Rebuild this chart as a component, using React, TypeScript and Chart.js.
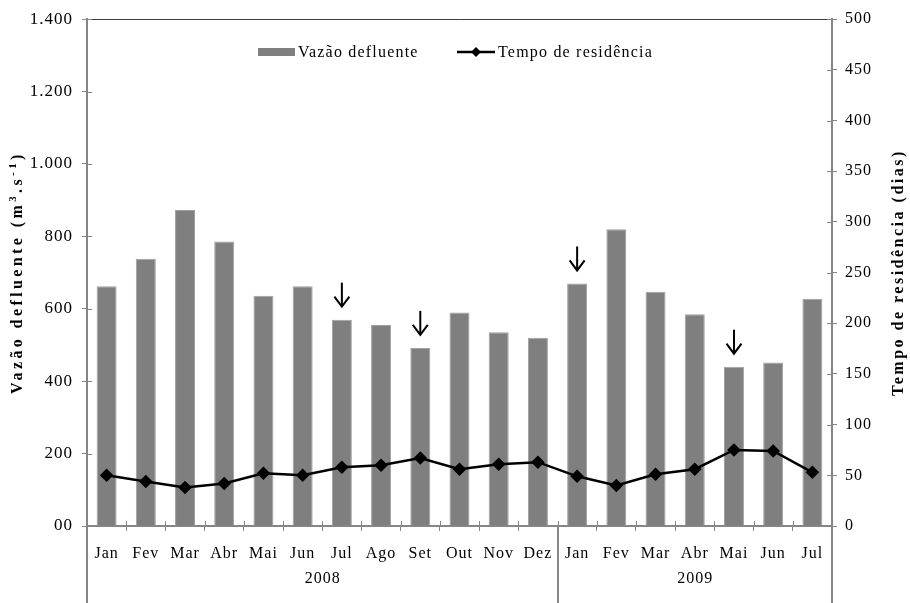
import React, { useEffect, useRef } from 'react';
import { Chart, registerables } from 'chart.js';

Chart.register(...registerables);

// ---- data ----
const months = ['Jan', 'Fev', 'Mar', 'Abr', 'Mai', 'Jun', 'Jul', 'Ago', 'Set', 'Out', 'Nov', 'Dez', 'Jan', 'Fev', 'Mar', 'Abr', 'Mai', 'Jun', 'Jul'];
const yearLabels = ['2008', '2009'];
const yearCounts = [12, 7];
const vazao = [662, 738, 873, 786, 636, 662, 570, 555, 492, 590, 535, 520, 670, 820, 647, 585, 440, 452, 628];
const tempo = [50, 44, 38, 42, 52, 50, 58, 60, 67, 56, 61, 63, 49, 40, 51, 56, 75, 74, 53];
const arrowIndices = [6, 8, 12, 16];
const leftTickLabels = ['00', '200', '400', '600', '800', '1.000', '1.200', '1.400'];
const seriesNames = ['Vazão defluente', 'Tempo de residência'];

const FONT = "'Liberation Serif', 'Times New Roman', serif";
const AXIS = '#868686';
const BAR = '#7f7f7f';

function line(ctx: CanvasRenderingContext2D, x1: number, y1: number, x2: number, y2: number) {
  ctx.beginPath();
  ctx.moveTo(x1, y1);
  ctx.lineTo(x2, y2);
  ctx.stroke();
}

type Seg = { t: string; sup?: boolean };

function drawRotatedTitle(ctx: CanvasRenderingContext2D, cx: number, cy: number, segs: Seg[], size: number, spacing: number) {
  const big = `bold ${size}px ${FONT}`;
  const small = `bold ${Math.round(size * 0.7)}px ${FONT}`;
  (ctx as any).letterSpacing = `${spacing}px`;
  let total = 0;
  const widths = segs.map((s) => {
    ctx.font = s.sup ? small : big;
    const w = ctx.measureText(s.t).width;
    total += w;
    return w;
  });
  ctx.save();
  ctx.translate(cx, cy);
  ctx.rotate(-Math.PI / 2);
  ctx.fillStyle = '#000';
  ctx.textBaseline = 'middle';
  ctx.textAlign = 'left';
  let x = -total / 2;
  segs.forEach((s, i) => {
    ctx.font = s.sup ? small : big;
    ctx.fillText(s.t, x, s.sup ? -size * 0.32 : 0);
    x += widths[i];
  });
  ctx.restore();
}

const spacingPlugin = {
  id: 'spacing',
  beforeDraw(chart: any) {
    chart.ctx.letterSpacing = '1px';
  },
};

const decorPlugin = {
  id: 'decor',
  afterDraw(chart: any) {
    const ctx: CanvasRenderingContext2D = chart.ctx;
    const xs = chart.scales.x;
    const yl = chart.scales.yL;
    const yr = chart.scales.yR;
    const area = chart.chartArea;
    const H = chart.height;
    ctx.save();

    // top border of plot area
    ctx.strokeStyle = '#3a3a3a';
    ctx.lineWidth = 1;
    line(ctx, area.left, Math.round(area.top) + 0.5, area.right, Math.round(area.top) + 0.5);

    // inner halves of crossing tick marks
    ctx.strokeStyle = AXIS;
    ctx.lineWidth = 1;
    yl.ticks.forEach((_t: any, i: number) => {
      const py = Math.round(yl.getPixelForTick(i)) + 0.5;
      line(ctx, area.left, py, area.left + 5, py);
    });
    yr.ticks.forEach((_t: any, i: number) => {
      const py = Math.round(yr.getPixelForTick(i)) + 0.5;
      line(ctx, area.right - 5, py, area.right, py);
    });
    for (let i = 1; i < months.length; i++) {
      const px = Math.round((xs.getPixelForValue(i - 1) + xs.getPixelForValue(i)) / 2) + 0.5;
      line(ctx, px, area.bottom - 5, px, area.bottom);
    }

    // year group separators and labels
    ctx.lineWidth = 2;
    line(ctx, area.left, area.top, area.left, H);
    line(ctx, area.right, area.bottom, area.right, H);
    let start = 0;
    const half = (xs.getPixelForValue(1) - xs.getPixelForValue(0)) / 2;
    (ctx as any).letterSpacing = '1px';
    yearLabels.forEach((lab, g) => {
      const end = start + yearCounts[g] - 1;
      const x0 = xs.getPixelForValue(start) - half;
      const x1 = xs.getPixelForValue(end) + half;
      if (g < yearLabels.length - 1) {
        ctx.strokeStyle = AXIS;
        line(ctx, Math.round(x1), area.bottom, Math.round(x1), H);
      }
      ctx.fillStyle = '#000';
      ctx.font = `16px ${FONT}`;
      ctx.textAlign = 'center';
      ctx.textBaseline = 'middle';
      ctx.fillText(lab, (x0 + x1) / 2 + 0.5, 579);
      start = end + 1;
    });

    // arrows above selected bars
    ctx.strokeStyle = '#000';
    ctx.lineWidth = 2;
    arrowIndices.forEach((idx) => {
      const px = xs.getPixelForValue(idx);
      const top = yl.getPixelForValue(vazao[idx]);
      const tip = top - 13;
      const tail = tip - 24;
      line(ctx, px, tail, px, tip);
      ctx.beginPath();
      ctx.moveTo(px - 7.5, tip - 10);
      ctx.lineTo(px, tip);
      ctx.lineTo(px + 7.5, tip - 10);
      ctx.stroke();
    });

    // legend
    const ly = 52;
    ctx.fillStyle = BAR;
    ctx.fillRect(258, ly - 4, 37, 8);
    ctx.fillStyle = '#000';
    ctx.font = `16px ${FONT}`;
    (ctx as any).letterSpacing = '1.2px';
    ctx.textAlign = 'left';
    ctx.textBaseline = 'middle';
    ctx.fillText(seriesNames[0], 298, ly + 1);
    ctx.strokeStyle = '#000';
    ctx.lineWidth = 2.5;
    line(ctx, 457, ly, 495, ly);
    ctx.beginPath();
    ctx.moveTo(476, ly - 5);
    ctx.lineTo(481, ly);
    ctx.lineTo(476, ly + 5);
    ctx.lineTo(471, ly);
    ctx.closePath();
    ctx.fill();
    ctx.fillText(seriesNames[1], 498, ly + 1);

    // axis titles
    const cy = (area.top + area.bottom) / 2;
    drawRotatedTitle(ctx, 18, cy, [
      { t: 'Vazão defluente (m' },
      { t: '3', sup: true },
      { t: '.s' },
      { t: '-1', sup: true },
      { t: ')' },
    ], 16, 3.4);
    drawRotatedTitle(ctx, 899, cy, [{ t: 'Tempo de residência (dias)' }], 16, 2.5);

    ctx.restore();
  },
};

export default function App() {
  const ref = useRef<HTMLCanvasElement | null>(null);
  useEffect(() => {
    if (!ref.current) return;
    const tickFont = { family: FONT, size: 16 };
    const chart = new Chart(ref.current, {
      type: 'bar',
      data: {
        labels: months,
        datasets: [
          {
            type: 'line',
            label: seriesNames[1],
            data: tempo,
            yAxisID: 'yR',
            borderColor: '#000',
            backgroundColor: '#000',
            borderWidth: 2.5,
            pointStyle: 'rectRot',
            pointRadius: 5,
            pointBackgroundColor: '#000',
            pointBorderColor: '#000',
            tension: 0,
            order: 0,
          } as any,
          {
            type: 'bar',
            label: seriesNames[0],
            data: vazao,
            yAxisID: 'yL',
            backgroundColor: BAR,
            borderColor: '#a0a0a0',
            borderWidth: { top: 1, left: 1, right: 1, bottom: 0 },
            barPercentage: 0.51,
            categoryPercentage: 1.0,
            order: 1,
          } as any,
        ],
      },
      options: {
        responsive: false,
        animation: false,
        layout: { padding: { top: 15, left: 0, right: 0, bottom: 0 } },
        plugins: { legend: { display: false }, tooltip: { enabled: false } },
        scales: {
          x: {
            type: 'category',
            grid: { offset: true, drawOnChartArea: false, tickLength: 5, color: AXIS },
            border: { color: AXIS, width: 2 },
            ticks: { font: tickFont, color: '#000', padding: 13, maxRotation: 0, autoSkip: false },
            afterFit: (s: any) => { s.height = 77; },
          },
          yL: {
            position: 'left',
            min: 0,
            max: 1400,
            grid: { drawOnChartArea: false, tickLength: 5, color: AXIS },
            border: { color: AXIS, width: 2 },
            ticks: {
              stepSize: 200,
              font: { family: FONT, size: 17 },
              color: '#000',
              padding: 9,
              callback: (v: any) => leftTickLabels[Math.round(Number(v) / 200)],
            },
            afterFit: (s: any) => { s.width = 87; },
          },
          yR: {
            position: 'right',
            min: 0,
            max: 500,
            grid: { drawOnChartArea: false, tickLength: 5, color: AXIS },
            border: { color: AXIS, width: 2 },
            ticks: { stepSize: 50, font: tickFont, color: '#000', padding: 8 },
            afterFit: (s: any) => { s.width = 78; },
          },
        },
      } as any,
      plugins: [spacingPlugin, decorPlugin],
    });
    return () => chart.destroy();
  }, []);
  return (
    <div style={{ position: 'fixed', left: 0, top: 0, width: 910, height: 603, background: '#fff' }}>
      <canvas ref={ref} width={910} height={603} style={{ display: 'block', width: 910, height: 603 }} />
    </div>
  );
}
